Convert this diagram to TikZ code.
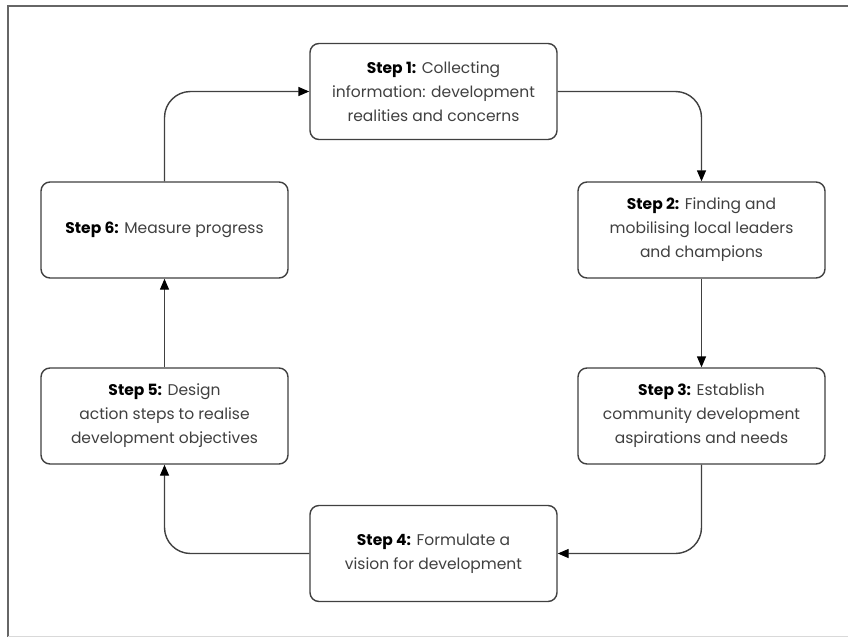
\documentclass[tikz,border=0pt]{standalone}
\usepackage{fontspec}
\setmainfont{Poppins}
\usetikzlibrary{arrows.meta}
\newcommand{\stp}[1]{{\color{black}\bfseries #1}}
\begin{document}
\begin{tikzpicture}[x=1pt,y=-1pt,
  stepbox/.style={draw=black!75, line width=1.4pt, rounded corners=9pt,
    minimum width=247pt, minimum height=96pt, align=center, text=black!75,
    font=\fontsize{15.5}{24}\selectfont, inner sep=0pt},
  conn/.style={draw=black!75, line width=1.4pt, rounded corners=26pt,
    -{Triangle[length=11pt,width=9pt,black]}}]
\useasboundingbox (0,0) rectangle (848,637);
\fill[white] (0,0) rectangle (848,637);
\draw[black!60, line width=2pt] (8,637) -- (8,6) -- (848,6);
\draw[black!15, line width=1pt] (8,636) -- (848,636);

\node[stepbox] (b1) at (433.5,91.5) {\stp{Step 1:} Collecting\\information: development\\realities and concerns};
\node[stepbox] (b2) at (701.5,230) {\stp{Step 2:} Finding and\\mobilising local leaders\\and champions};
\node[stepbox] (b3) at (701.5,416) {\stp{Step 3:} Establish\\community development\\aspirations and needs};
\node[stepbox] (b4) at (433.5,553.5) {\stp{Step 4:} Formulate a\\vision for development};
\node[stepbox] (b5) at (164.5,416) {\stp{Step 5:} Design\\action steps to realise\\development objectives};
\node[stepbox] (b6) at (164.5,230) {\stp{Step 6:} Measure progress};

\draw[conn] (b1.east) -| (b2.north);
\draw[conn] (b2.south) -- (b3.north);
\draw[conn] (b3.south) |- (b4.east);
\draw[conn] (b4.west) -| (b5.south);
\draw[conn] (b5.north) -- (b6.south);
\draw[conn] (b6.north) |- (b1.west);
\end{tikzpicture}
\end{document}
